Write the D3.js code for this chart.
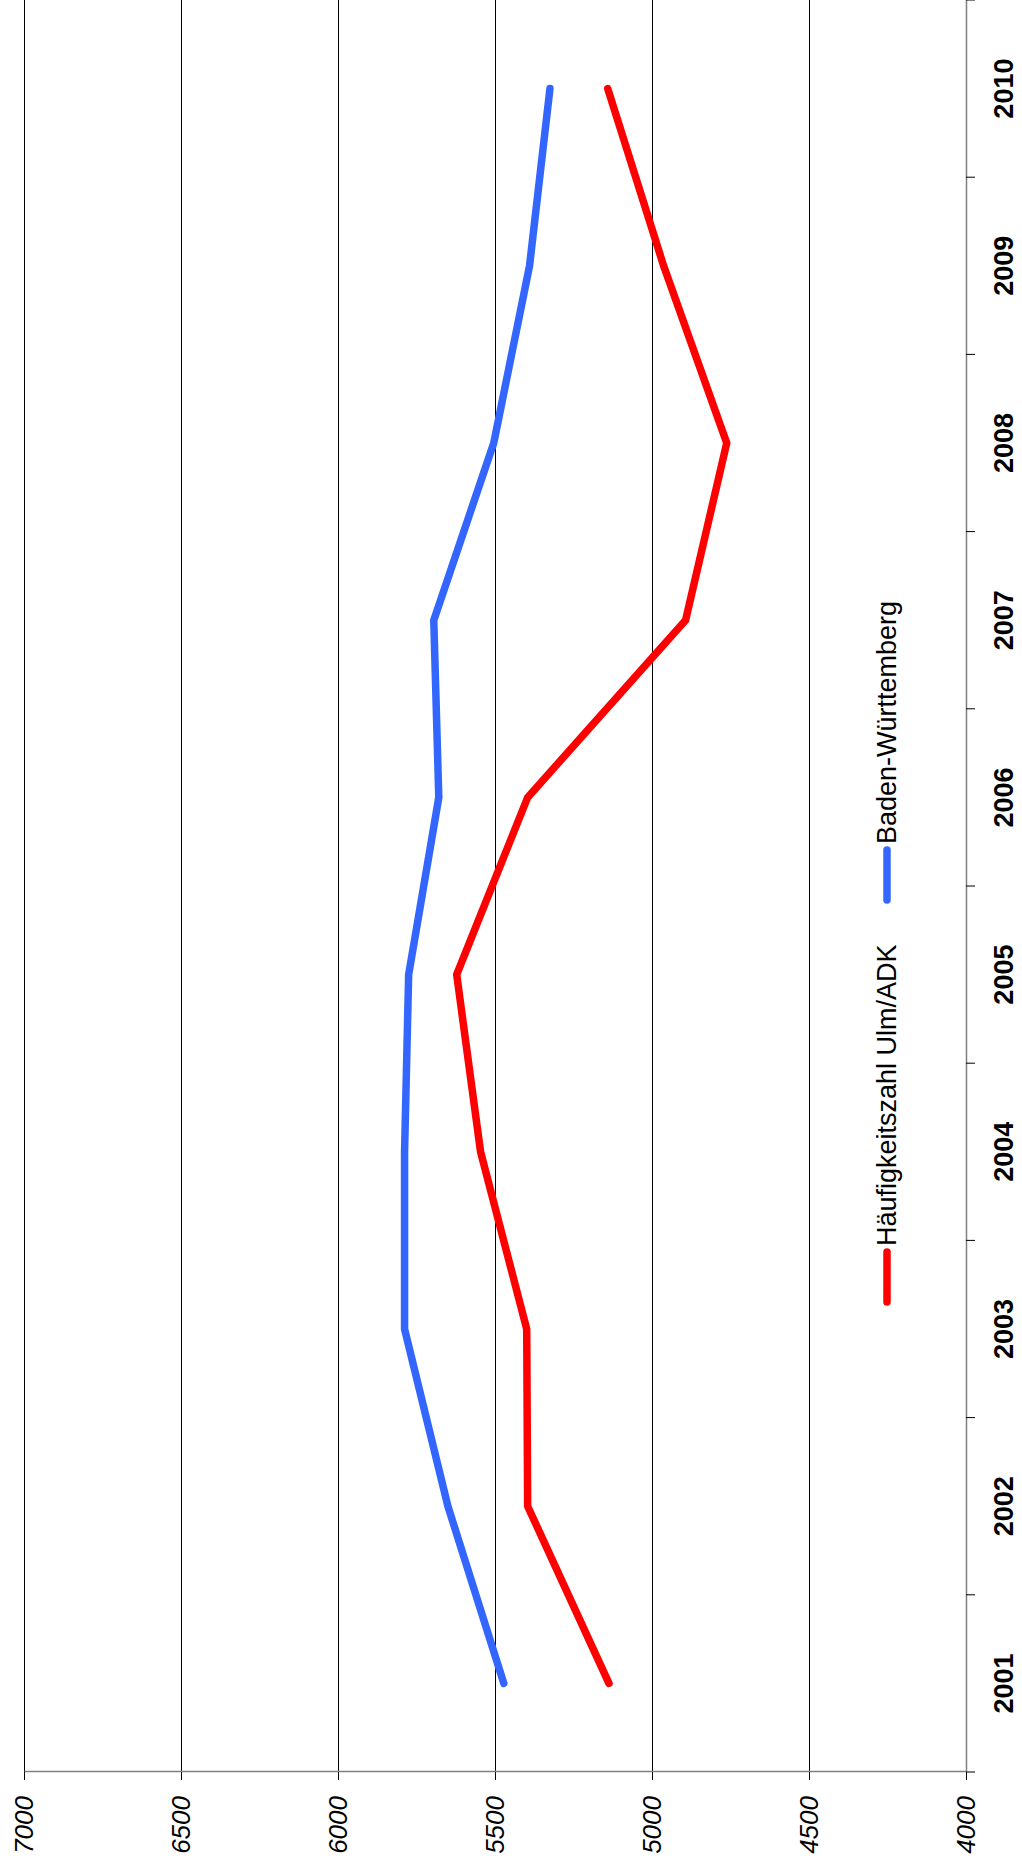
<!DOCTYPE html>
<html>
<head>
<meta charset="utf-8">
<script src="https://cdn.jsdelivr.net/npm/d3@7"></script>
<style>
  body { margin: 0; background: #fff; }
  svg { display: block; font-family: "Liberation Sans", Arial, sans-serif; }
</style>
</head>
<body>
<div id="chart"></div>
<script>
var years = ['2001', '2002', '2003', '2004', '2005', '2006', '2007', '2008', '2009', '2010'];
var ulm = [5137, 5396, 5399, 5546, 5622, 5396, 4893, 4762, 4963, 5141];
var bw = [5472, 5650, 5788, 5788, 5775, 5679, 5695, 5504, 5390, 5325];
var valueTicks = [4000, 4500, 5000, 5500, 6000, 6500, 7000];
var seriesNames = ['Häufigkeitszahl Ulm/ADK', 'Baden-Württemberg'];

var width = 1022;
var height = 1872;

// the chart is drawn in a normal frame and then turned by -90 degrees
var chartWidth = 1772;
var chartHeight = 942;

var svg = d3.select('#chart').append('svg')
    .attr('width', width)
    .attr('height', height);

svg.append('rect')
    .attr('width', width)
    .attr('height', height)
    .attr('fill', '#fff');

var chart = svg.append('g')
    .attr('transform', `translate(24, ${chartWidth}) rotate(-90)`);

var xScale = d3.scaleBand()
    .domain(years)
    .range([0, chartWidth]);

var yScale = d3.scaleLinear()
    .domain([4000, 7000])
    .range([chartHeight, 0]);

// grid lines
var grid = chart.append('g')
    .call(d3.axisLeft(yScale)
        .tickValues(valueTicks.filter(d => d > 4000))
        .tickSize(-chartWidth)
        .tickFormat(''));
grid.select('.domain').remove();
grid.selectAll('line').attr('stroke', '#000').attr('stroke-width', 1);

// value axis
var yAxis_g = chart.append('g')
    .call(d3.axisLeft(yScale)
        .tickValues(valueTicks)
        .tickFormat(d3.format('d'))
        .tickSize(8)
        .tickSizeOuter(0)
        .tickPadding(16));
yAxis_g.select('.domain').attr('stroke', '#808080').attr('stroke-width', 1.5);
yAxis_g.selectAll('line').attr('stroke', '#000');
yAxis_g.selectAll('text')
    .attr('font-size', 26)
    .attr('font-style', 'italic')
    .attr('font-family', '"Liberation Sans", Arial, sans-serif')
    .attr('fill', '#000');

// year axis
var xAxis_g = chart.append('g')
    .attr('transform', `translate(0, ${chartHeight})`)
    .call(d3.axisBottom(xScale).tickSize(0).tickSizeOuter(0));
xAxis_g.select('.domain').attr('stroke', '#808080').attr('stroke-width', 1.5);
xAxis_g.selectAll('text')
    .attr('y', 38)
    .attr('dy', '0.35em')
    .attr('font-size', 27)
    .attr('font-weight', 'bold')
    .attr('font-family', '"Liberation Sans", Arial, sans-serif')
    .attr('fill', '#000');

var bounds = years.map(d => xScale(d)).concat([xScale.range()[1]]);
xAxis_g.selectAll('.bound')
    .data(bounds)
    .enter()
    .append('line')
    .attr('class', 'bound')
    .attr('x1', d => d)
    .attr('x2', d => d)
    .attr('y1', 0)
    .attr('y2', 9)
    .attr('stroke', '#000')
    .attr('stroke-width', 1);

// lines
var line = d3.line()
    .x((d, i) => xScale(years[i]) + xScale.bandwidth() / 2)
    .y(d => yScale(d));

var series = [
    { name: seriesNames[0], values: ulm, color: '#ff0000' },
    { name: seriesNames[1], values: bw, color: '#3366ff' }
];

chart.selectAll('.series')
    .data(series)
    .enter()
    .append('path')
    .attr('class', 'series')
    .attr('d', d => line(d.values))
    .attr('fill', 'none')
    .attr('stroke', d => d.color)
    .attr('stroke-width', 7.5)
    .attr('stroke-linecap', 'round')
    .attr('stroke-linejoin', 'miter');

// legend
var legendPos = [470, 872];
var legend = chart.append('g')
    .attr('transform', 'translate(0, 863)');

var items = legend.selectAll('.item')
    .data(series)
    .enter()
    .append('g')
    .attr('class', 'item')
    .attr('transform', (d, i) => `translate(${legendPos[i]}, 0)`);

items.append('line')
    .attr('x1', 0)
    .attr('x2', 50)
    .attr('y1', 0)
    .attr('y2', 0)
    .attr('stroke', d => d.color)
    .attr('stroke-width', 7.5)
    .attr('stroke-linecap', 'round');

items.append('text')
    .attr('x', 56)
    .attr('y', 0)
    .attr('dy', '0.35em')
    .attr('font-size', 27)
    .attr('fill', '#000')
    .text(d => d.name);
</script>
</body>
</html>
